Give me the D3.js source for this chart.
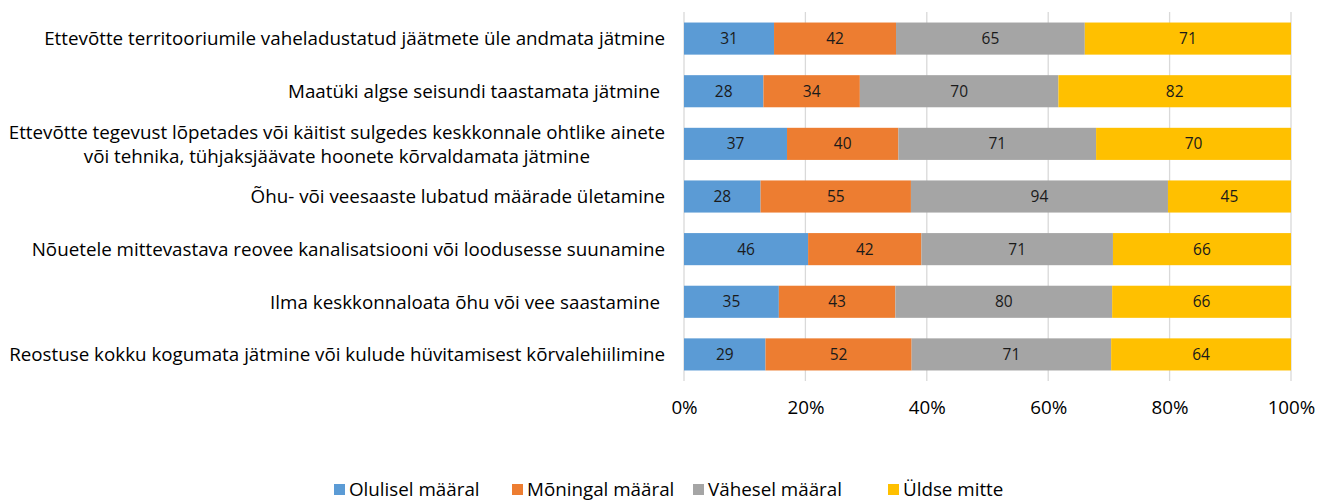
<!DOCTYPE html>
<html><head><meta charset="utf-8">
<script src="https://cdn.jsdelivr.net/npm/d3@7"></script>
<style>body{margin:0;background:#fff}svg{display:block}text{font-family:"Open Sans",Lato,sans-serif;white-space:pre}</style>
</head><body><svg id="c" width="1317" height="502"></svg>
<script>
const categories = [
  ["Ettevõtte territooriumile vaheladustatud jäätmete üle andmata jätmine"],
  ["Maatüki algse seisundi taastamata jätmine "],
  ["Ettevõtte tegevust lõpetades või käitist sulgedes keskkonnale ohtlike ainete","või tehnika, tühjaksjäävate hoonete kõrvaldamata jätmine"],
  ["Õhu- või veesaaste lubatud määrade ületamine"],
  ["Nõuetele mittevastava reovee kanalisatsiooni või loodusesse suunamine"],
  ["Ilma keskkonnaloata õhu või vee saastamine "],
  ["Reostuse kokku kogumata jätmine või kulude hüvitamisest kõrvalehiilimine"]
];
const seriesNames = ["Olulisel määral","Mõningal määral","Vähesel määral","Üldse mitte"];
const olulisel = [31,28,37,28,46,35,29];
const moningal = [42,34,40,55,42,43,52];
const vahesel  = [65,70,71,94,71,80,71];
const uldse    = [71,82,70,45,66,66,64];
const colors = ["#5B9BD5","#ED7D31","#A5A5A5","#FFC000"];
const tickValues = [0,0.2,0.4,0.6,0.8,1];

const svg = d3.select("#c");
const pL = 684, pR = 1291, pT = 12, pB = 381;
const FS = 18.8;
const x = d3.scaleLinear().domain([0,1]).range([pL,pR]);
const idx = d3.range(categories.length);
const y = d3.scaleBand().domain(idx).range([pT,pB]).paddingInner(0.39).paddingOuter(0.2);

const rows = idx.map(i => {
  const v = [olulisel[i],moningal[i],vahesel[i],uldse[i]];
  const tot = d3.sum(v);
  const o = {i}; v.forEach((d,k)=>{o["s"+k]=d/tot; o["v"+k]=d;});
  return o;
});
const stack = d3.stack().keys(["s0","s1","s2","s3"])(rows);

svg.append("g").selectAll("line").data(tickValues).join("line")
  .attr("x1",d=>x(d)).attr("x2",d=>x(d)).attr("y1",pT).attr("y2",pB)
  .attr("stroke","#D9D9D9").attr("stroke-width",1.3);

const g = svg.append("g");
stack.forEach((layer,k)=>{
  g.selectAll(null).data(layer).join("rect")
    .attr("x",d=>x(d[0])).attr("width",d=>x(d[1])-x(d[0]))
    .attr("y",(d,j)=>y(j)).attr("height",y.bandwidth())
    .attr("fill",colors[k]);
  g.selectAll(null).data(layer).join("text")
    .attr("x",d=>(x(d[0])+x(d[1]))/2).attr("y",(d,j)=>y(j)+y.bandwidth()/2)
    .attr("dy","0.36em").attr("text-anchor","middle")
    .attr("font-size",15.5).attr("fill","#1a1a1a")
    .text(d=>d.data["v"+k]);
});

const lab = svg.append("g");
categories.forEach((lines,i)=>{
  const cy = y(i)+y.bandwidth()/2;
  if(lines.length===1){
    lab.append("text").attr("x",pL-19).attr("y",cy).attr("dy","0.36em")
      .attr("text-anchor","end").attr("font-size",FS).attr("fill","#000").text(lines[0]);
  } else {
    const t1 = lab.append("text").attr("x",pL-19).attr("y",cy-12).attr("dy","0.36em")
      .attr("text-anchor","end").attr("font-size",FS).attr("fill","#000").text(lines[0]);
    const w = t1.node().getComputedTextLength();
    lab.append("text").attr("x",pL-19-w/2).attr("y",cy+12).attr("dy","0.36em")
      .attr("text-anchor","middle").attr("font-size",FS).attr("fill","#000").text(lines[1]);
  }
});

const ax = d3.axisBottom(x).tickValues(tickValues).tickFormat(d3.format(".0%")).tickSize(0).tickPadding(20);
const axg = svg.append("g").attr("transform",`translate(0,${pB})`).call(ax);
axg.select(".domain").remove();
axg.selectAll("text").attr("font-size",FS).attr("fill","#000").attr("font-family","Open Sans");

const leg = svg.append("g");
const legX = [334,512,693,888];
seriesNames.forEach((n,k)=>{
  leg.append("rect").attr("x",legX[k]).attr("y",484).attr("width",11).attr("height",11).attr("fill",colors[k]);
  leg.append("text").attr("x",legX[k]+15).attr("y",489.5).attr("dy","0.36em").attr("font-size",FS).attr("fill","#000").text(n);
});
</script></body></html>
